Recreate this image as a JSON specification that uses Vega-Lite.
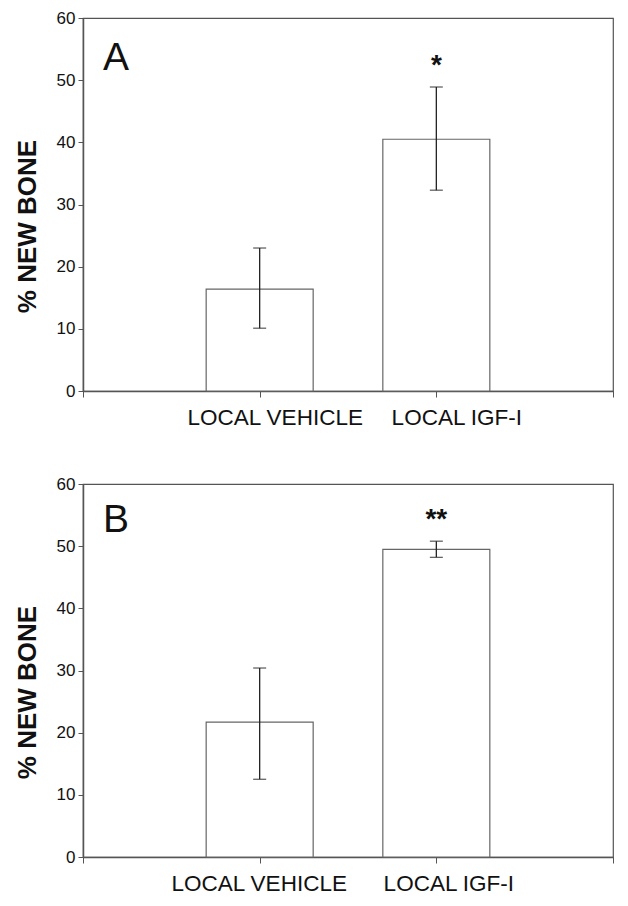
{
  "$schema": "https://vega.github.io/schema/vega-lite/v6.json",
  "padding": {"left": 13, "top": 8, "right": 5, "bottom": 5},
  "background": "white",
  "spacing": 93,
  "bounds": "flush",
  "config": {
    "font": "Liberation Sans",
    "view": {"stroke": "#555555", "strokeWidth": 1.2},
    "axis": {
      "domainColor": "#555555",
      "tickColor": "#555555",
      "labelColor": "#111111",
      "titleColor": "#111111",
      "labelFont": "Liberation Sans",
      "titleFont": "Liberation Sans",
      "grid": false
    }
  },
  "datasets": {
    "bones": [
      {"panel": "A", "group": "LOCAL VEHICLE", "mean": 16.4, "lo": 10.1, "hi": 23.0, "sig": ""},
      {"panel": "A", "group": "LOCAL IGF-I", "mean": 40.5, "lo": 32.3, "hi": 48.9, "sig": "*"},
      {"panel": "B", "group": "LOCAL VEHICLE", "mean": 21.7, "lo": 12.5, "hi": 30.4, "sig": ""},
      {"panel": "B", "group": "LOCAL IGF-I", "mean": 49.5, "lo": 48.2, "hi": 50.8, "sig": "**"}
    ]
  },
  "vconcat": [
    {
      "width": 530,
      "height": 373,
      "data": {"name": "bones"},
      "transform": [{"filter": "datum.panel === 'A'"}],
      "encoding": {
        "x": {
          "field": "group",
          "type": "nominal",
          "scale": {"type": "point", "domain": ["a", "LOCAL VEHICLE", "LOCAL IGF-I", "b"], "padding": 0},
          "axis": {
            "title": null,
            "labelAngle": 0,
            "labelExpr": "length(datum.label) > 2 ? datum.label : ''",
            "labelFontSize": 22.5,
            "labelPadding": 9,
            "labelOffset": {"condition": {"test": "datum.value === 'LOCAL VEHICLE'", "value": 15}, "value": 20},
            "tickSize": 6,
            "domainWidth": 1.5
          }
        }
      },
      "layer": [
        {
          "mark": {"type": "bar", "width": 107, "fill": "white", "stroke": "#666666", "strokeWidth": 1.2},
          "encoding": {
            "y": {
              "field": "mean",
              "type": "quantitative",
              "scale": {"domain": [0, 60], "nice": false},
              "axis": {
                "title": "% NEW BONE",
                "titleFontSize": 26,
                "titleFontWeight": "bold",
                "titlePadding": 16,
                "titleY": 208,
                "labelFontSize": 17,
                "labelPadding": 3,
                "tickSize": 5,
                "values": [0, 10, 20, 30, 40, 50, 60],
                "domainWidth": 1.5
              }
            }
          }
        },
        {
          "mark": {"type": "rule", "color": "#222222", "strokeWidth": 1.3},
          "encoding": {"y": {"field": "lo", "type": "quantitative"}, "y2": {"field": "hi"}}
        },
        {
          "mark": {"type": "tick", "orient": "horizontal", "size": 13, "thickness": 1.3, "color": "#222222"},
          "encoding": {"y": {"field": "lo", "type": "quantitative"}}
        },
        {
          "mark": {"type": "tick", "orient": "horizontal", "size": 13, "thickness": 1.3, "color": "#222222"},
          "encoding": {"y": {"field": "hi", "type": "quantitative"}}
        },
        {
          "mark": {"type": "text", "fontSize": 28, "fontWeight": "bold", "baseline": "alphabetic", "dy": -13, "color": "#111111"},
          "encoding": {"y": {"field": "hi", "type": "quantitative"}, "text": {"field": "sig"}}
        },
        {
          "data": {"values": [{"label": "A"}]},
          "mark": {"type": "text", "fontSize": 39, "align": "left", "baseline": "alphabetic", "dx": 20, "color": "#111111"},
          "encoding": {
            "x": {"datum": "a", "type": "nominal"},
            "y": {"datum": 51.6, "type": "quantitative"},
            "text": {"field": "label"}
          }
        }
      ]
    },
    {
      "width": 530,
      "height": 373,
      "data": {"name": "bones"},
      "transform": [{"filter": "datum.panel === 'B'"}],
      "encoding": {
        "x": {
          "field": "group",
          "type": "nominal",
          "scale": {"type": "point", "domain": ["a", "LOCAL VEHICLE", "LOCAL IGF-I", "b"], "padding": 0},
          "axis": {
            "title": null,
            "labelAngle": 0,
            "labelExpr": "length(datum.label) > 2 ? datum.label : ''",
            "labelFontSize": 22.5,
            "labelPadding": 9,
            "labelOffset": {"condition": {"test": "datum.value === 'LOCAL VEHICLE'", "value": -1}, "value": 12},
            "tickSize": 6,
            "domainWidth": 1.5
          }
        }
      },
      "layer": [
        {
          "mark": {"type": "bar", "width": 107, "fill": "white", "stroke": "#666666", "strokeWidth": 1.2},
          "encoding": {
            "y": {
              "field": "mean",
              "type": "quantitative",
              "scale": {"domain": [0, 60], "nice": false},
              "axis": {
                "title": "% NEW BONE",
                "titleFontSize": 26,
                "titleFontWeight": "bold",
                "titlePadding": 16,
                "titleY": 208,
                "labelFontSize": 17,
                "labelPadding": 3,
                "tickSize": 5,
                "values": [0, 10, 20, 30, 40, 50, 60],
                "domainWidth": 1.5
              }
            }
          }
        },
        {
          "mark": {"type": "rule", "color": "#222222", "strokeWidth": 1.3},
          "encoding": {"y": {"field": "lo", "type": "quantitative"}, "y2": {"field": "hi"}}
        },
        {
          "mark": {"type": "tick", "orient": "horizontal", "size": 13, "thickness": 1.3, "color": "#222222"},
          "encoding": {"y": {"field": "lo", "type": "quantitative"}}
        },
        {
          "mark": {"type": "tick", "orient": "horizontal", "size": 13, "thickness": 1.3, "color": "#222222"},
          "encoding": {"y": {"field": "hi", "type": "quantitative"}}
        },
        {
          "mark": {"type": "text", "fontSize": 28, "fontWeight": "bold", "baseline": "alphabetic", "dy": -13, "color": "#111111"},
          "encoding": {"y": {"field": "hi", "type": "quantitative"}, "text": {"field": "sig"}}
        },
        {
          "data": {"values": [{"label": "B"}]},
          "mark": {"type": "text", "fontSize": 39, "align": "left", "baseline": "alphabetic", "dx": 20, "color": "#111111"},
          "encoding": {
            "x": {"datum": "a", "type": "nominal"},
            "y": {"datum": 52.2, "type": "quantitative"},
            "text": {"field": "label"}
          }
        }
      ]
    }
  ]
}
